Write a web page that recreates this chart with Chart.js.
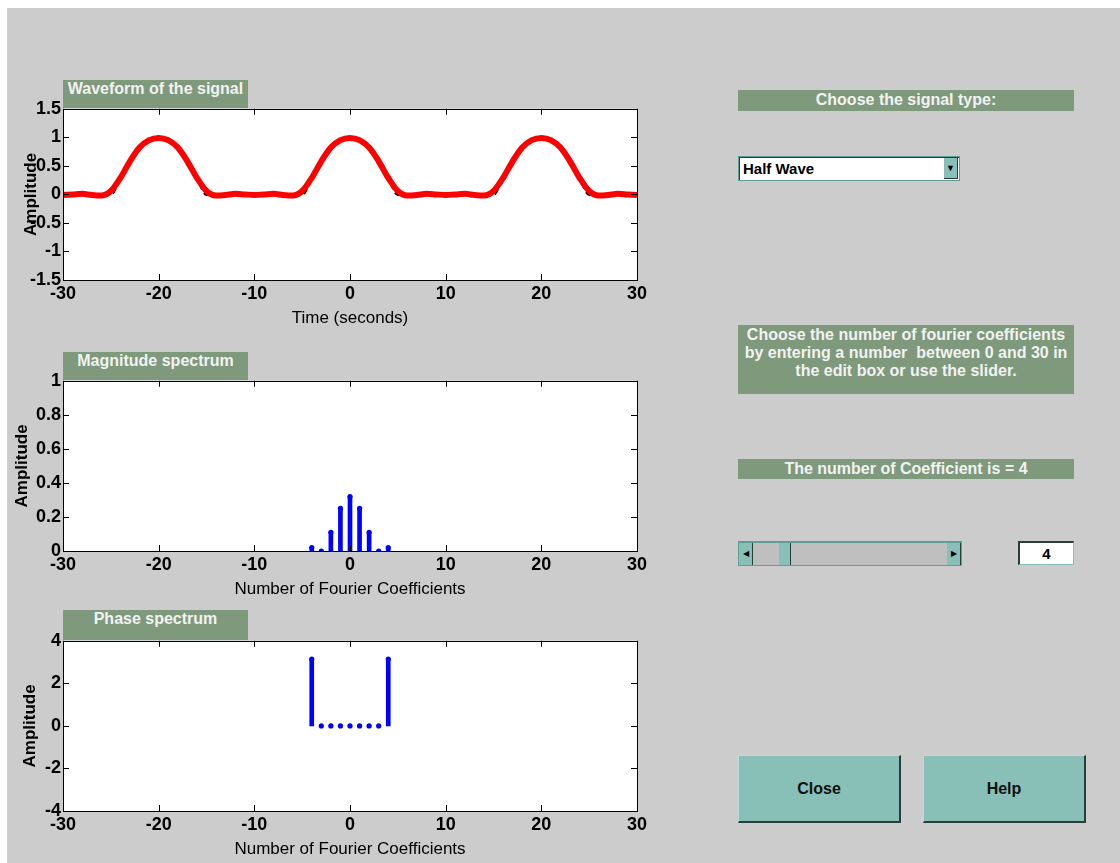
<!DOCTYPE html>
<html>
<head>
<meta charset="utf-8">
<script src="https://cdn.jsdelivr.net/npm/chart.js@4.4.1/dist/chart.umd.min.js"></script>
<style>
  body { margin: 0; background: #ffffff; font-family: 'Liberation Sans', Arial, sans-serif; }
  #fig { position: absolute; left: 7px; top: 8px; width: 1113px; height: 855px; background: #cccccc; }
  .plot { position: absolute; left: 0; width: 660px; }
  .axtitle { position: absolute; left: 63px; width: 185px; height: 28px; background: #7e997c;
             color: #f2f2f2; font-weight: bold; font-size: 16px; line-height: 18px; text-align: center; }
  .lbl { position: absolute; left: 738px; width: 336px; background: #7e997c; color: #f2f2f2;
         font-weight: bold; font-size: 16px; line-height: 18px; text-align: center; }
  .teal { background: #88c0b7; }
  .btn { position: absolute; top: 755px; width: 160px; height: 65px; background: #88c0b7;
         border-top: 1px solid #b8dcd6; border-left: 1px solid #b8dcd6;
         border-right: 2px solid #2b3d3a; border-bottom: 2px solid #2b3d3a;
         font-weight: bold; font-size: 16px; line-height: 65px; text-align: center; color: #111; }
</style>
</head>
<body>
<div id="fig"></div>

<div class="axtitle" style="top:80px">Waveform of the signal</div>
<div class="plot" style="top:96px;height:234px"><canvas id="waveChart"></canvas></div>

<div class="axtitle" style="top:352px">Magnitude spectrum</div>
<div class="plot" style="top:368px;height:233px"><canvas id="magChart"></canvas></div>

<div class="axtitle" style="top:610px;height:30px">Phase spectrum</div>
<div class="plot" style="top:628px;height:233px"><canvas id="phaseChart"></canvas></div>

<!-- controls on the right -->
<div class="lbl" style="top:90px;height:21px;line-height:20px">Choose the signal type:</div>

<div style="position:absolute;left:738px;top:156px;width:220px;height:23px;background:#fff;border:1px solid #5e9e94;box-shadow:inset 1px 1px 0 #2b3d3a">
  <div style="position:absolute;left:4px;top:3px;font-weight:bold;font-size:15px;color:#000">Half Wave</div>
  <div style="position:absolute;right:1px;top:1px;width:13px;height:20px;background:#88c0b7;border-right:1px solid #2b3d3a;border-bottom:1px solid #2b3d3a;font-size:9px;line-height:20px;text-align:center">&#9660;</div>
</div>

<div class="lbl" style="top:325px;height:68px;padding-top:1px">Choose the number of fourier coefficients<br>by entering a number&nbsp; between 0 and 30 in<br>the edit box or use the slider.</div>

<div class="lbl" style="top:459px;height:20px;line-height:19px">The number of Coefficient is = 4</div>

<div style="position:absolute;left:738px;top:541px;width:222px;height:22px;background:#bfbfbf;border:1px solid #5e9e94;border-top:2px solid #5e9e94">
  <div class="teal" style="position:absolute;left:0;top:0;width:13px;height:22px;border-right:1px solid #2b3d3a;font-size:8px;line-height:22px;text-align:center">&#9664;</div>
  <div class="teal" style="position:absolute;left:40px;top:0;width:11px;height:22px;border-right:1px solid #2b3d3a"></div>
  <div class="teal" style="position:absolute;right:0;top:0;width:13px;height:22px;border-right:1px solid #2b3d3a;font-size:8px;line-height:22px;text-align:center">&#9654;</div>
</div>

<div style="position:absolute;left:1018px;top:541px;width:53px;height:21px;background:#fff;border-top:2px solid #2b3d3a;border-left:2px solid #2b3d3a;border-right:1px solid #88c0b7;border-bottom:1px solid #88c0b7;font-weight:bold;font-size:15px;line-height:21px;text-align:center">4</div>

<div class="btn" style="left:738px">Close</div>
<div class="btn" style="left:923px">Help</div>

<script>
// time axis of the waveform (seconds)
const timeSec = [-30, -29, -28, -27, -26, -25, -24, -23, -22, -21, -20, -19, -18, -17, -16, -15,
  -14, -13, -12, -11, -10, -9, -8, -7, -6, -5, -4, -3, -2, -1, 0, 1, 2, 3, 4, 5, 6, 7, 8, 9, 10,
  11, 12, 13, 14, 15, 16, 17, 18, 19, 20, 21, 22, 23, 24, 25, 26, 27, 28, 29, 30];

// original half wave (black)
const halfWave = [0, 0, 0, 0, 0, 0, 0.31, 0.59, 0.81, 0.95, 1, 0.95, 0.81, 0.59, 0.31, 0,
  0, 0, 0, 0, 0, 0, 0, 0, 0, 0, 0.31, 0.59, 0.81, 0.95, 1, 0.95, 0.81, 0.59, 0.31, 0, 0, 0, 0, 0, 0,
  0, 0, 0, 0, 0, 0.31, 0.59, 0.81, 0.95, 1, 0.95, 0.81, 0.59, 0.31, 0, 0, 0, 0, 0, 0];

// fourier approximation with 4 coefficients (red)
const approx = [-0.01, 0.00, 0.01, -0.01, -0.02, 0.06, 0.29, 0.58, 0.82, 0.95, 0.99, 0.95, 0.82, 0.58, 0.29, 0.06,
  -0.02, -0.01, 0.01, 0.00, -0.01, 0.00, 0.01, -0.01, -0.02, 0.06, 0.29, 0.58, 0.82, 0.95, 0.99, 0.95, 0.82, 0.58, 0.29, 0.06, -0.02, -0.01, 0.01, 0.00, -0.01,
  0.00, 0.01, -0.01, -0.02, 0.06, 0.29, 0.58, 0.82, 0.95, 0.99, 0.95, 0.82, 0.58, 0.29, 0.06, -0.02, -0.01, 0.01, 0.00, -0.01];

// spectrum
const coeffIndex = [-4, -3, -2, -1, 0, 1, 2, 3, 4];
const magnitude = [0.02, 0.0, 0.11, 0.25, 0.32, 0.25, 0.11, 0.0, 0.02];
const phase = [3.14, 0, 0, 0, 0, 0, 0, 0, 3.14];

// tick labels
const xTicks = [-30, -20, -10, 0, 10, 20, 30];

const FONT = "'Liberation Sans', Arial, sans-serif";

// white plot area, black box and inward ticks on all four sides (matlab style)
const boxTicks = {
    id: 'boxTicks',
    beforeDraw(chart) {
        const { ctx, chartArea: a } = chart;
        ctx.save();
        ctx.fillStyle = '#ffffff';
        ctx.fillRect(a.left, a.top, a.right - a.left, a.bottom - a.top);
        ctx.restore();
    },
    afterDraw(chart) {
        const { ctx, chartArea: a, scales: { x, y } } = chart;
        ctx.save();
        ctx.strokeStyle = '#000000';
        ctx.lineWidth = 1;
        ctx.strokeRect(Math.round(a.left) + 0.5, Math.round(a.top) + 0.5,
            Math.round(a.right - a.left), Math.round(a.bottom - a.top));
        ctx.beginPath();
        x.ticks.forEach(t => {
            const px = Math.round(x.getPixelForValue(t.value)) + 0.5;
            ctx.moveTo(px, a.top); ctx.lineTo(px, a.top + 6);
            ctx.moveTo(px, a.bottom); ctx.lineTo(px, a.bottom - 6);
        });
        y.ticks.forEach(t => {
            const py = Math.round(y.getPixelForValue(t.value)) + 0.5;
            ctx.moveTo(a.left, py); ctx.lineTo(a.left + 6, py);
            ctx.moveTo(a.right, py); ctx.lineTo(a.right - 6, py);
        });
        ctx.stroke();
        ctx.restore();
    }
};

function axes(yMin, yMax, yStep, xTitle, yTitlePad) {
    return {
        x: {
            type: 'linear', min: -30, max: 30, offset: false,
            afterBuildTicks: s => { s.ticks = xTicks.map(v => ({ value: v })); },
            afterFit: s => { s.height = 50; },
            grid: { display: false, drawTicks: false, offset: false },
            border: { display: false },
            ticks: { color: '#000', padding: 3, maxRotation: 0, autoSkip: false,
                     font: { family: FONT, size: 18, weight: 'bold' } },
            title: { display: true, text: xTitle, color: '#000', padding: { top: 0, bottom: 1 },
                     font: { family: FONT, size: 17 } }
        },
        y: {
            min: yMin, max: yMax,
            afterFit: s => { s.width = 63; },
            grid: { display: false, drawTicks: false },
            border: { display: false },
            ticks: { stepSize: yStep, color: '#000', padding: 2,
                     font: { family: FONT, size: 18, weight: 'bold' },
                     callback: v => String(Number(v.toFixed(2))) },
            title: { display: true, text: 'Amplitude', color: '#000', padding: { top: yTitlePad, bottom: 0 },
                     font: { family: FONT, size: 17, weight: 'bold' } }
        }
    };
}

const common = {
    responsive: true,
    maintainAspectRatio: false,
    animation: false,
    layout: { padding: { top: 12, right: 23, left: 0, bottom: 0 } },
    plugins: { legend: { display: false }, tooltip: { enabled: false } }
};

// 1. waveform
new Chart(document.getElementById('waveChart'), {
    type: 'line',
    data: {
        datasets: [
            {
                label: 'Fourier approximation',
                data: timeSec.map((t, i) => ({ x: t, y: approx[i] })),
                borderColor: '#ff0000',
                borderWidth: 6,
                pointRadius: 0,
                cubicInterpolationMode: 'monotone'
            },
            {
                label: 'Half wave',
                data: timeSec.map((t, i) => ({ x: t, y: halfWave[i] })),
                borderColor: '#000000',
                borderWidth: 3,
                borderDash: [6, 4],
                pointRadius: 0,
                cubicInterpolationMode: 'monotone'
            }
        ]
    },
    options: { ...common, scales: axes(-1.5, 1.5, 0.5, 'Time (seconds)', 21) },
    plugins: [boxTicks]
});

// 2 + 3. stem plots: thin bars for the stems, dots on top
function stemChart(id, values, yMin, yMax, yStep, pad) {
    const pts = coeffIndex.map((n, i) => ({ x: n, y: values[i] }));
    new Chart(document.getElementById(id), {
        type: 'bar',
        data: {
            datasets: [
                {
                    label: 'stem',
                    data: pts,
                    backgroundColor: '#0000ff',
                    barThickness: 4,
                    order: 2
                },
                {
                    type: 'line',
                    label: 'marker',
                    data: pts,
                    showLine: false,
                    pointRadius: 2.6,
                    pointBackgroundColor: '#0000ff',
                    pointBorderWidth: 0,
                    order: 1
                }
            ]
        },
        options: { ...common, scales: axes(yMin, yMax, yStep, 'Number of Fourier Coefficients', pad) },
        plugins: [boxTicks]
    });
}

stemChart('magChart', magnitude, 0, 1, 0.2, 12);
stemChart('phaseChart', phase, -4, 4, 2, 20);
</script>
</body>
</html>
